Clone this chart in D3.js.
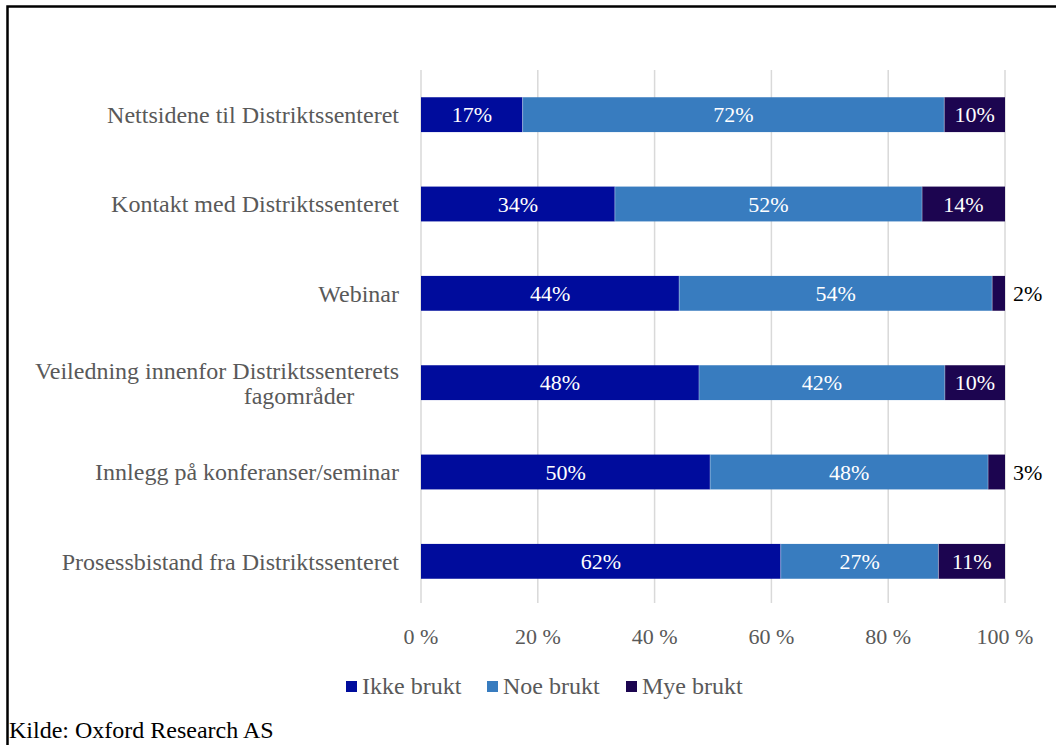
<!DOCTYPE html>
<html>
<head>
<meta charset="utf-8">
<script src="https://cdn.jsdelivr.net/npm/d3@7"></script>
<style>
  body { margin: 0; background: #fff; }
  svg { display: block; font-family: "Liberation Serif", "Times New Roman", serif; }
</style>
</head>
<body>
<script>
const categories = [
  "Nettsidene til Distriktssenteret",
  "Kontakt med Distriktssenteret",
  "Webinar",
  "Veiledning innenfor Distriktssenterets fagområder",
  "Innlegg på konferanser/seminar",
  "Prosessbistand fra Distriktssenteret"
];
const seriesNames = ["Ikke brukt", "Noe brukt", "Mye brukt"];
// bar lengths (share of 100)
const ikkeBrukt = [17.4, 33.2, 44.2, 47.6, 49.5, 61.6];
const noeBrukt  = [72.2, 52.6, 53.6, 42.1, 47.6, 27.0];
const myeBrukt  = [10.4, 14.2,  2.2, 10.3,  2.9, 11.4];
// data labels as printed
const ikkeLabels = ["17%", "34%", "44%", "48%", "50%", "62%"];
const noeLabels  = ["72%", "52%", "54%", "42%", "48%", "27%"];
const myeLabels  = ["10%", "14%", "2%", "10%", "3%", "11%"];
const ticks = [0, 20, 40, 60, 80, 100];

const width = 1056, height = 745;
const colors = ["#000C9C", "#387CBF", "#1C0550"];
const grey = "#595959";

const svg = d3.select("body").append("svg")
  .attr("width", width)
  .attr("height", height);

// frame
svg.append("path")
  .attr("d", `M7.5,${height}V6.5H${width}`)
  .attr("fill", "none")
  .attr("stroke", "#000")
  .attr("stroke-width", 2.5);

const x = d3.scaleLinear().domain([0, 100]).range([421, 1005]);
const y = d3.scaleBand().domain(categories).range([70, 606]).paddingInner(0.61).paddingOuter(0.305);

// gridlines
svg.append("g").selectAll("line")
  .data(ticks)
  .join("line")
  .attr("x1", d => x(d)).attr("x2", d => x(d))
  .attr("y1", 70).attr("y2", 603)
  .attr("stroke", "#d9d9d9")
  .attr("stroke-width", 1.5);

// tick labels
svg.append("g").selectAll("text")
  .data(ticks)
  .join("text")
  .attr("x", d => x(d))
  .attr("y", 644)
  .attr("text-anchor", "middle")
  .attr("fill", grey)
  .style("font-size", "22px")
  .text(d => d + " %");

const rows = categories.map((c, i) => ({
  cat: c,
  vals: [ikkeBrukt[i], noeBrukt[i], myeBrukt[i]],
  labels: [ikkeLabels[i], noeLabels[i], myeLabels[i]]
}));

const segs = rows.flatMap(r => {
  let acc = 0;
  return r.vals.map((v, k) => {
    const s = { cat: r.cat, k, x0: acc, x1: acc + v, label: r.labels[k] };
    acc += v;
    return s;
  });
});

svg.append("g").selectAll("rect")
  .data(segs)
  .join("rect")
  .attr("x", d => x(d.x0))
  .attr("width", d => x(Math.min(d.x1, 100)) - x(d.x0))
  .attr("y", d => y(d.cat))
  .attr("height", y.bandwidth())
  .attr("fill", d => colors[d.k]);

// segment separators
svg.append("g").selectAll("line")
  .data(segs.filter(d => d.k > 0))
  .join("line")
  .attr("x1", d => x(d.x0)).attr("x2", d => x(d.x0))
  .attr("y1", d => y(d.cat)).attr("y2", d => y(d.cat) + y.bandwidth())
  .attr("stroke", "#ffffff")
  .attr("stroke-opacity", 0.35)
  .attr("stroke-width", 1);

// data labels
svg.append("g").selectAll("text")
  .data(segs)
  .join("text")
  .each(function(d) {
    const inside = d.x1 - d.x0 > 5;
    d3.select(this)
      .attr("x", inside ? x((d.x0 + Math.min(d.x1, 100)) / 2) : x(100) + 8)
      .attr("text-anchor", inside ? "middle" : "start")
      .attr("fill", inside ? "#fff" : "#000");
  })
  .attr("y", d => y(d.cat) + y.bandwidth() / 2)
  .attr("dy", "0.35em")
  .style("font-size", "22px")
  .text(d => d.label);

// category labels
const catG = svg.append("g");
categories.forEach(c => {
  const cy = y(c) + y.bandwidth() / 2;
  if (c.length > 40) {
    const parts = ["Veiledning innenfor Distriktssenterets", "fagområder"];
    catG.append("text")
      .attr("x", 399).attr("y", cy - 12).attr("dy", "0.35em")
      .attr("text-anchor", "end").attr("fill", grey)
      .style("font-size", "24px")
      .text(parts[0]);
    catG.append("text")
      .attr("x", 299).attr("y", cy + 13).attr("dy", "0.35em")
      .attr("text-anchor", "middle").attr("fill", grey)
      .style("font-size", "24px")
      .text(parts[1]);
  } else {
    catG.append("text")
      .attr("x", 399).attr("y", cy).attr("dy", "0.35em")
      .attr("text-anchor", "end").attr("fill", grey)
      .style("font-size", "24px")
      .text(c);
  }
});

// legend
const legendX = [346, 487, 626];
const legend = svg.append("g").selectAll("g")
  .data(seriesNames)
  .join("g")
  .attr("transform", (d, i) => `translate(${legendX[i]},686)`);
legend.append("rect")
  .attr("x", 0).attr("y", -5)
  .attr("width", 11).attr("height", 11)
  .attr("fill", (d, i) => colors[i]);
legend.append("text")
  .attr("x", 16).attr("dy", "0.35em")
  .attr("fill", grey)
  .style("font-size", "24px")
  .text(d => d);

svg.append("text")
  .attr("x", 9).attr("y", 738)
  .style("font-size", "24px")
  .attr("fill", "#000")
  .text("Kilde: Oxford Research AS");
</script>
</body>
</html>
